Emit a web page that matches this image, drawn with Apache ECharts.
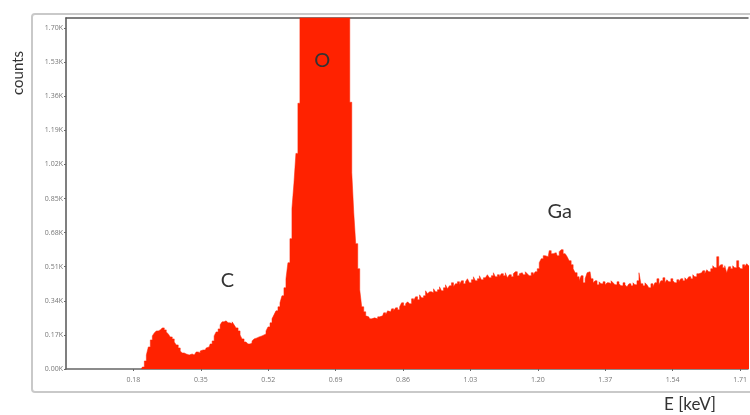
<!DOCTYPE html>
<html>
<head>
<meta charset="utf-8">
<script src="https://cdn.jsdelivr.net/npm/echarts@6/dist/echarts.min.js"></script>
<style>
html,body{margin:0;padding:0;background:#fff;}
#chart{width:750px;height:415px;}
</style>
</head>
<body>
<div id="chart"></div>
<script>
// Spectrum: counts per channel
const channelStart = 0.2;
const channelWidth = 0.00503;
const counts = [
  0, 10, 40, 70, 110, 145, 165, 180, 190, 195,
  200, 205, 195, 185, 175, 160, 150, 135, 120, 105,
  90, 80, 75, 70, 70, 75, 70, 75, 85, 80,
  90, 95, 95, 105, 110, 125, 140, 165, 185, 200,
  220, 235, 240, 235, 230, 225, 235, 220, 205, 190,
  170, 150, 135, 130, 125, 130, 140, 150, 155, 160,
  165, 170, 175, 190, 210, 230, 250, 270, 290, 310,
  330, 365, 405, 450, 530, 650, 800, 925, 1075, 1325,
  1780, 2050, 2300, 2550, 2800, 3000, 3180, 3320, 3420, 3480,
  3510, 3520, 3500, 3460, 3380, 3280, 3150, 3000, 2820, 2620,
  2420, 2220, 2030, 1880, 1790, 1330, 980, 780, 625, 500,
  395, 310, 285, 265, 260, 250, 245, 255, 250, 260,
  255, 265, 280, 270, 290, 285, 300, 290, 305, 295,
  310, 330, 315, 325, 335, 325, 350, 340, 360, 345,
  370, 355, 365, 390, 375, 385, 380, 400, 385, 395,
  410, 390, 405, 420, 400, 415, 430, 410, 425, 435,
  420, 440, 425, 435, 450, 430, 445, 460, 440, 450,
  465, 445, 455, 450, 470, 455, 465, 480, 460, 470,
  460, 475, 465, 480, 455, 470, 460, 475, 485, 465,
  475, 480, 470, 485, 475, 465, 480, 470, 485, 500,
  530, 550, 565, 570, 560, 590, 575, 570, 580, 565,
  585, 595, 575, 570, 560, 540, 520, 500, 480, 460,
  440, 465, 430, 450, 480, 485, 450, 430, 440, 420,
  435, 425, 435, 420, 430, 425, 440, 430, 420, 435,
  425, 415, 430, 420, 410, 425, 415, 430, 420, 440,
  480, 425, 415, 430, 420, 405, 425, 410, 430, 450,
  420, 440, 455, 430, 445, 435, 450, 440, 430, 445,
  435, 450, 440, 455, 445, 460, 450, 470, 460, 475,
  470, 480, 490, 475, 495, 485, 500, 515, 505, 560,
  510, 520, 505, 515, 480, 510, 500, 515, 505, 540,
  510, 500, 520, 510, 525, 515, 520
];
const xMin = 0.01, xMax = 1.73, xInterval = 0.17;
const yMin = 0, yMax = 1750, yInterval = 170;
const peakLabels = ['C', 'O', 'Ga'];
const peakEnergy = [0.417, 0.656, 1.255];
const peakLabelCount = [439, 1540, 783];

const series = counts.map((c, i) => [+(channelStart + channelWidth * i).toFixed(4), c]);
const chart = echarts.init(document.getElementById('chart'));
const RED = '#ff2200';
chart.setOption({
  animation: false,
  grid: {left: 66, right: 0, top: 18, bottom: 46},
  xAxis: [{
    type: 'value', min: xMin, max: xMax, interval: xInterval,
    axisLine: {show: true, lineStyle: {color: '#666', width: 1.5}},
    axisTick: {show: true, length: 2, lineStyle: {color: '#666'}},
    axisLabel: {showMinLabel: false, showMaxLabel: false, fontSize: 7, color: '#777', margin: 7,
      fontFamily: 'Open Sans', formatter: v => v.toFixed(2)},
    splitLine: {show: false}
  }, {
    type: 'value', position: 'top', min: xMin, max: xMax,
    axisLine: {show: true, lineStyle: {color: '#555', width: 1.5}},
    axisTick: {show: false}, axisLabel: {show: false}, splitLine: {show: false}
  }],
  yAxis: {
    type: 'value', min: yMin, max: yMax, interval: yInterval,
    axisLine: {show: true, lineStyle: {color: '#555', width: 1.5}},
    axisTick: {show: true, length: 2, lineStyle: {color: '#666'}},
    axisLabel: {showMaxLabel: false, fontSize: 7, color: '#777', margin: 3,
      fontFamily: 'Open Sans', formatter: v => (v / 1000).toFixed(2) + 'K'},
    splitLine: {show: false}
  },
  series: [{
    type: 'line', data: series, step: 'middle', symbol: 'none', clip: true,
    lineStyle: {width: 0.5, color: RED}, itemStyle: {color: RED},
    areaStyle: {color: RED, opacity: 1},
    markPoint: {
      symbol: 'circle', symbolSize: 1, itemStyle: {color: 'rgba(0,0,0,0)'},
      label: {show: true, position: 'inside', formatter: '{b}', fontSize: 20, color: '#333', fontFamily: 'Lato'},
      data: peakLabels.map((n, i) => ({name: n, coord: [peakEnergy[i], peakLabelCount[i]]}))
    }
  }],
  graphic: [
    {type: 'rect', shape: {x: 32, y: 14, width: 740, height: 378, r: 3}, style: {fill: 'none', stroke: '#c9c9c9', lineWidth: 2}, z: -1},
    {type: 'text', x: 18, y: 73, rotation: Math.PI / 2, style: {text: 'counts', fontSize: 15, fill: '#333', fontFamily: 'Lato', textAlign: 'center', textVerticalAlign: 'middle'}},
    {type: 'text', x: 690, y: 405, style: {text: 'E [keV]', fontSize: 17, fill: '#333', fontFamily: 'Lato', textAlign: 'center', textVerticalAlign: 'middle'}}
  ]
});
</script>
</body>
</html>
